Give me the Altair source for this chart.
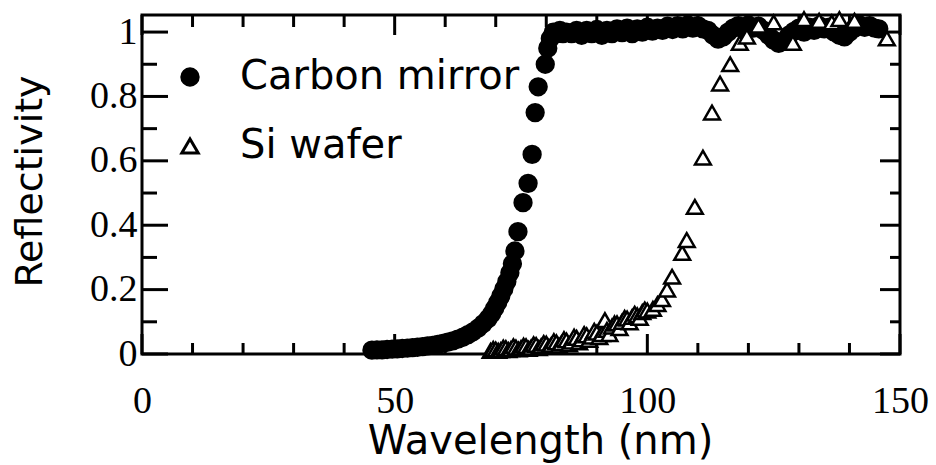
import altair as alt
import pandas as pd

# ---------------- data ----------------
series_names = ["Carbon mirror", "Si wafer"]

carbon_wl = [45.5, 46.5, 47.5, 48.5, 49.5, 50.5, 51.5, 52.5, 53.5, 54.5,
             55.5, 56.5, 57.5, 58.5, 59.5, 60.5, 61.5, 62.5, 63.5, 64.5,
             65.5, 66.5, 67.5, 68.5, 69.2, 69.8, 70.4, 71.0, 71.6, 72.2,
             72.8, 73.3, 73.8, 74.4, 75.4, 76.4, 77.2, 77.8, 78.4, 79.8,
             80.3, 80.8, 81.4, 82.0, 82.7, 83.3,
             84, 85, 86, 87, 88, 89, 90, 91, 92, 93, 94, 95, 96, 97, 98, 99,
             100, 101, 102, 103, 104, 105, 106, 107, 108, 109, 110, 111, 112,
             113, 114, 115, 116, 117, 118, 119, 120, 121, 122, 123, 124, 125,
             126, 127, 128, 129, 130, 131, 132, 133, 134, 135, 136, 137, 138,
             139, 140, 141, 142, 143, 144, 145, 145.8]
carbon_r = [0.012, 0.013, 0.013, 0.014, 0.015, 0.016, 0.017, 0.018, 0.020, 0.021,
            0.023, 0.025, 0.027, 0.030, 0.033, 0.037, 0.041, 0.046, 0.052, 0.060,
            0.069, 0.080, 0.094, 0.110, 0.125, 0.142, 0.160, 0.180, 0.202, 0.225,
            0.252, 0.280, 0.320, 0.380, 0.470, 0.530, 0.620, 0.750, 0.830, 0.900,
            0.950, 0.980, 1.000, 0.995, 1.005, 0.995,
            1.000, 0.995, 1.005, 0.990, 1.005, 0.995, 1.008, 0.990, 1.005, 0.995,
            1.010, 0.998, 1.012, 0.995, 1.010, 1.000,
            1.015, 1.003, 1.012, 1.005, 1.018, 1.008, 1.020, 1.010, 1.022, 1.012,
            1.020, 1.010, 1.005, 0.990, 0.978, 0.985, 1.000, 1.012, 1.020, 1.010,
            1.022, 1.012, 1.018, 1.005, 0.990, 0.975, 0.965, 0.972, 0.990, 1.002,
            1.012, 1.000, 1.015, 1.005, 1.020, 1.010, 1.015, 1.000, 0.990, 0.985,
            1.000, 1.012, 1.022, 1.015, 1.020, 1.012, 1.010]

si_wl = [69, 69.5, 70, 70.5, 71, 71.5, 72, 72.5, 73, 73.5, 74, 74.5, 75, 75.5,
         76, 76.5, 77, 77.5, 78, 78.5, 79, 79.5, 80, 80.5, 81, 81.5, 82, 82.5,
         83, 83.5, 84, 84.5, 85, 85.5, 86, 86.5, 87, 87.5, 88, 88.5, 89, 89.5,
         90, 90.5, 91, 91.6, 92, 92.5, 93, 93.5, 94, 94.5, 95, 95.5, 96, 96.5,
         97, 97.5, 98, 98.5, 99, 99.5, 100,
         101.1, 102, 102.9, 103.9, 104.9, 106.9, 107.8, 109.4, 111.0, 112.8,
         114.4, 116.4, 118.3, 119.7, 122, 125, 128.8, 131, 134, 136.5, 138,
         141, 147.4]
si_r = [0.010, 0.016, 0.014, 0.010, 0.012, 0.020, 0.018, 0.012, 0.015, 0.024,
        0.020, 0.014, 0.018, 0.026, 0.024, 0.016, 0.020, 0.030, 0.028, 0.018,
        0.024, 0.034, 0.032, 0.022, 0.028, 0.040, 0.036, 0.026, 0.033, 0.046,
        0.042, 0.030, 0.038, 0.054, 0.050, 0.036, 0.045, 0.062, 0.058, 0.044,
        0.054, 0.072, 0.066, 0.052, 0.062, 0.105, 0.075, 0.062, 0.085, 0.095,
        0.095, 0.080, 0.100, 0.112, 0.110, 0.098, 0.115, 0.125, 0.120, 0.112,
        0.130, 0.138, 0.135,
        0.140, 0.155, 0.170, 0.200, 0.240, 0.314, 0.354, 0.457, 0.610, 0.750,
        0.840, 0.900, 0.966, 0.986, 1.020, 1.030, 0.966, 1.040, 1.035, 1.030,
        1.040, 1.035, 0.980]

x_label_values = [0, 50, 100, 150]
y_label_values = [0, 0.2, 0.4, 0.6, 0.8, 1.0]
x_tick_values = [0, 10, 20, 30, 40, 50, 60, 70, 80, 90, 100, 110, 120, 130, 140, 150]
y_tick_values = [0, 0.1, 0.2, 0.3, 0.4, 0.5, 0.6, 0.7, 0.8, 0.9, 1.0]

# ---------------- layout constants ----------------
W, H = 758, 339
XMAX, YMAX = 150, 1.053
PPX = W / XMAX
PPY = H / YMAX

df = pd.DataFrame({
    "wavelength": carbon_wl + si_wl,
    "reflectivity": carbon_r + si_r,
    "series": [series_names[0]] * len(carbon_wl) + [series_names[1]] * len(si_wl),
})

# inward frame ticks (decoration), built from tick value lists
rows = []
for v in x_tick_values:
    major = v in x_label_values
    rows.append({"wavelength": v, "x2": v, "reflectivity": 0, "y2": (20 if major else 11) / PPY})
    rows.append({"wavelength": v, "x2": v, "reflectivity": YMAX, "y2": YMAX - (20 if major else 12) / PPY})
for v in y_tick_values:
    major = any(abs(v - m) < 1e-9 for m in y_label_values)
    rows.append({"wavelength": 0, "x2": (26 if major else 15) / PPX, "reflectivity": v, "y2": v})
    rows.append({"wavelength": XMAX, "x2": XMAX - (20 if major else 10) / PPX, "reflectivity": v, "y2": v})
ticks_df = pd.DataFrame(rows)

x_scale = alt.Scale(domain=[0, XMAX], nice=False, zero=False)
y_scale = alt.Scale(domain=[0, YMAX], nice=False, zero=False)

x_axis = alt.Axis(
    values=x_label_values, format="d", ticks=False, tickSize=0, domain=False, grid=False,
    labelFont="Liberation Serif", labelFontSize=38, labelColor="black",
    labelPadding=28, labelFlush=False, labelOverlap=False,
    title="Wavelength (nm)", titleFont="DejaVu Sans", titleFontSize=40,
    titleFontWeight="normal", titleColor="black",
    titleX=398, titleY=99, titleBaseline="alphabetic", titleAlign="center",
)
y_axis = alt.Axis(
    values=y_label_values, format=".1~f", ticks=False, tickSize=0, domain=False, grid=False,
    labelFont="Liberation Serif", labelFontSize=38, labelColor="black",
    labelPadding=5, labelFlush=False, labelOverlap=False,
    title="Reflectivity", titleFont="DejaVu Sans", titleFontSize=38,
    titleFontWeight="normal", titleColor="black",
    titleX=-101, titleY=166, titleAngle=270, titleBaseline="alphabetic", titleAlign="center",
)

legend = alt.Legend(
    title=None, orient="none", legendX=28, legendY=42, direction="vertical",
    padding=0, labelFont="DejaVu Sans", labelFontSize=40, labelColor="black",
    labelLimit=0, symbolSize=270, symbolStrokeWidth=3, symbolStrokeColor="black",
    symbolOpacity=1, rowPadding=29, labelOffset=30,
)

shape_enc = alt.Shape("series:N", scale=alt.Scale(domain=series_names, range=["circle", "triangle-up"]), legend=legend)
fill_enc = alt.Fill("series:N", scale=alt.Scale(domain=series_names, range=["black", "white"]), legend=legend)
stroke_enc = alt.Stroke("series:N", scale=alt.Scale(domain=series_names, range=["black", "black"]), legend=legend)
x_enc = alt.X("wavelength:Q", scale=x_scale, axis=x_axis, title="Wavelength (nm)")
y_enc = alt.Y("reflectivity:Q", scale=y_scale, axis=y_axis, title="Reflectivity")

base = alt.Chart(df)

carbon_layer = base.transform_filter(alt.datum.series == series_names[0]).mark_point(
    opacity=1, strokeWidth=2, size=300
).encode(x=x_enc, y=y_enc, shape=shape_enc, fill=fill_enc, stroke=stroke_enc)

si_layer = base.transform_filter(alt.datum.series == series_names[1]).mark_point(
    opacity=1, strokeWidth=2.5, size=250
).encode(x=x_enc, y=y_enc, shape=shape_enc, fill=fill_enc, stroke=stroke_enc)

tick_rules = alt.Chart(ticks_df).mark_rule(color="black", strokeWidth=3).encode(
    x=x_enc, x2="x2:Q", y=y_enc, y2="y2:Q",
)

chart = alt.layer(tick_rules, carbon_layer, si_layer).properties(
    width=W, height=H,
    autosize=alt.AutoSizeParams(type="none"),
    padding={"left": 142, "top": 15, "right": 36, "bottom": 111},
    background="white",
).configure_view(stroke="black", strokeWidth=3)

chart.save("out.html", embed_options={"renderer": "svg", "actions": False})
